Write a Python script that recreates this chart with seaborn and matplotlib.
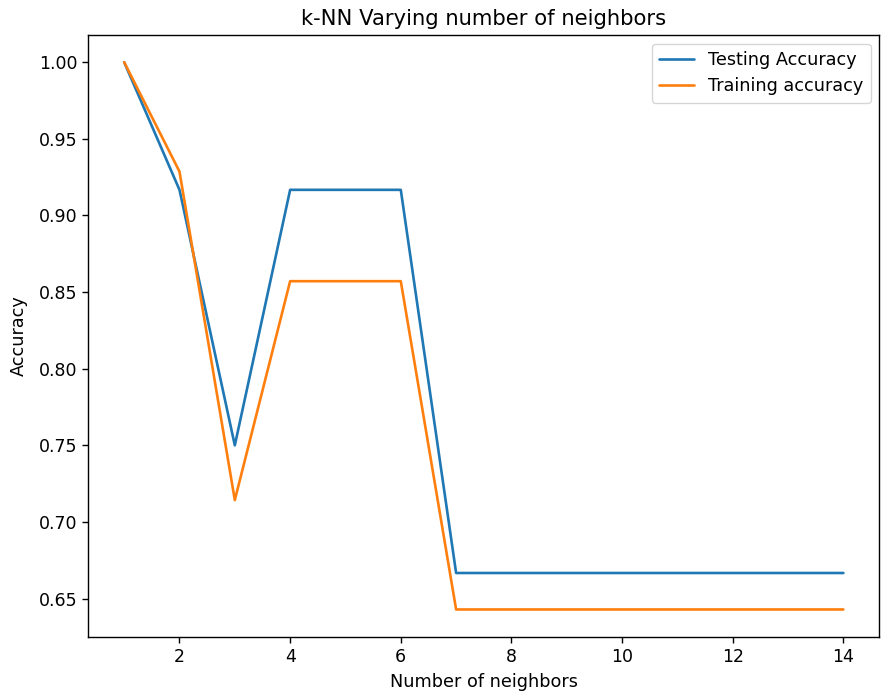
import matplotlib
matplotlib.use("Agg")
import matplotlib.pyplot as plt
import numpy as np
import pandas as pd
import seaborn as sns

sns.set_theme(style="ticks", rc={
    "text.color": "black", "axes.labelcolor": "black",
    "xtick.color": "black", "ytick.color": "black",
    "axes.edgecolor": "black",
})
plt.rcParams['font.family'] = ['DejaVu Sans']

neighbors = list(range(1, 15))
test_accuracy = [1.0, 0.9167, 0.75, 0.9167, 0.9167, 0.9167, 0.6667,
                 0.6667, 0.6667, 0.6667, 0.6667, 0.6667, 0.6667, 0.6667]
train_accuracy = [1.0, 0.9286, 0.7143, 0.8571, 0.8571, 0.8571, 0.6429,
                  0.6429, 0.6429, 0.6429, 0.6429, 0.6429, 0.6429, 0.6429]

df = pd.DataFrame({
    "k": neighbors * 2,
    "acc": test_accuracy + train_accuracy,
    "series": ["Testing Accuracy"] * len(neighbors) + ["Training accuracy"] * len(neighbors),
})

fig, ax = plt.subplots(figsize=(8.82, 6.96), dpi=100)
fig.subplots_adjust(left=0.1, right=0.997, top=0.95, bottom=0.085)

sns.lineplot(data=df, x="k", y="acc", hue="series",
             palette=["#1f77b4", "#ff7f0e"], linewidth=1.9, ax=ax)

ax.set_title("k-NN Varying number of neighbors", fontsize=15.2, pad=7)
ax.set_xlabel("Number of neighbors", fontsize=12.7, labelpad=5)
ax.set_ylabel("Accuracy", fontsize=12.7, labelpad=8)
ax.set_xticks([2, 4, 6, 8, 10, 12, 14])
ax.set_yticks([0.65, 0.70, 0.75, 0.80, 0.85, 0.90, 0.95, 1.00])
ax.tick_params(labelsize=12.5, length=4.4, width=1.0)
for s in ax.spines.values():
    s.set_visible(True)
    s.set_linewidth(1.0)
ax.legend(title=None, loc="upper right", fontsize=12.7)

plt.savefig("out.png")
